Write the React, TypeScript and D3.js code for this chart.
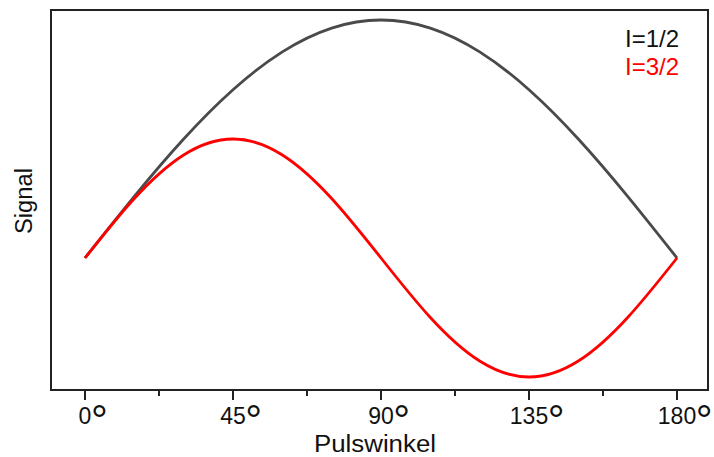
import React from "react";
import * as d3 from "d3";

// Pulse angle in degrees
const angles = [0, 15, 30, 45, 60, 75, 90, 105, 120, 135, 150, 165, 180];
// Relative signal for I=1/2
const signalHalf = [0, 0.259, 0.5, 0.707, 0.866, 0.966, 1, 0.966, 0.866, 0.707, 0.5, 0.259, 0];
// Relative signal for I=3/2
const signalThreeHalf = [0, 0.25, 0.433, 0.5, 0.433, 0.25, 0, -0.25, -0.433, -0.5, -0.433, -0.25, 0];

const majorTicks = [0, 45, 90, 135, 180];
const minorTicks = [22.5, 67.5, 112.5, 157.5];
const legendLabels = ["I=1/2", "I=3/2"];

const W = 714;
const H = 457;
const frame = { left: 51, right: 708, top: 10, bottom: 390 };
const font = "Liberation Sans, Arial, sans-serif";
const colors = ["#4a4a4a", "#ff0000"];
const tickFont = 23;
const digitWidth = tickFont * 0.556;

export default function App() {
  const x = d3.scaleLinear().domain([0, 180]).range([85, 677]);
  const y = d3.scaleLinear().domain([0, 1]).range([258, 20]);

  const line = d3
    .line<[number, number]>()
    .x((d) => x(d[0]))
    .y((d) => y(d[1]))
    .curve(d3.curveNatural);

  const series = [signalHalf, signalThreeHalf].map((vals) =>
    angles.map((a, i) => [a, vals[i]] as [number, number])
  );

  return (
    <svg
      width={W}
      height={H}
      style={{ position: "absolute", left: 0, top: 0, background: "#fff" }}
    >
      <rect
        x={frame.left}
        y={frame.top}
        width={frame.right - frame.left}
        height={frame.bottom - frame.top}
        fill="none"
        stroke="#222"
        strokeWidth={2}
      />
      {series.map((s, i) => (
        <path
          key={i}
          d={line(s) || ""}
          fill="none"
          stroke={colors[i]}
          strokeWidth={2.8}
          strokeLinejoin="round"
        />
      ))}
      {majorTicks.map((t) => {
        const half = (String(t).length * digitWidth) / 2;
        return (
          <g key={t}>
            <line x1={x(t)} x2={x(t)} y1={frame.bottom + 1} y2={frame.bottom + 10} stroke="#222" strokeWidth={2} />
            <text
              x={x(t)}
              y={424}
              textAnchor="middle"
              fontFamily={font}
              fontSize={tickFont}
              fill="#111"
            >
              {t}
              <tspan x={x(t) + half - 0.5} dy={11} textAnchor="start" fontSize={42}>°</tspan>
            </text>
          </g>
        );
      })}
      {minorTicks.map((t) => (
        <line key={t} x1={x(t)} x2={x(t)} y1={frame.bottom + 1} y2={frame.bottom + 6} stroke="#222" strokeWidth={2} />
      ))}
      <text
        x={375}
        y={452}
        textAnchor="middle"
        fontFamily={font}
        fontSize={23}
        fill="#111"
        textLength={122}
        lengthAdjust="spacingAndGlyphs"
      >
        Pulswinkel
      </text>
      <text
        transform={`translate(32,201) rotate(-90)`}
        textAnchor="middle"
        fontFamily={font}
        fontSize={23}
        fill="#111"
        textLength={66}
        lengthAdjust="spacingAndGlyphs"
      >
        Signal
      </text>
      {legendLabels.map((l, i) => (
        <text key={l} x={625} y={47 + i * 28} fontFamily={font} fontSize={24} fill={i === 0 ? "#111" : colors[1]}>
          {l}
        </text>
      ))}
    </svg>
  );
}
